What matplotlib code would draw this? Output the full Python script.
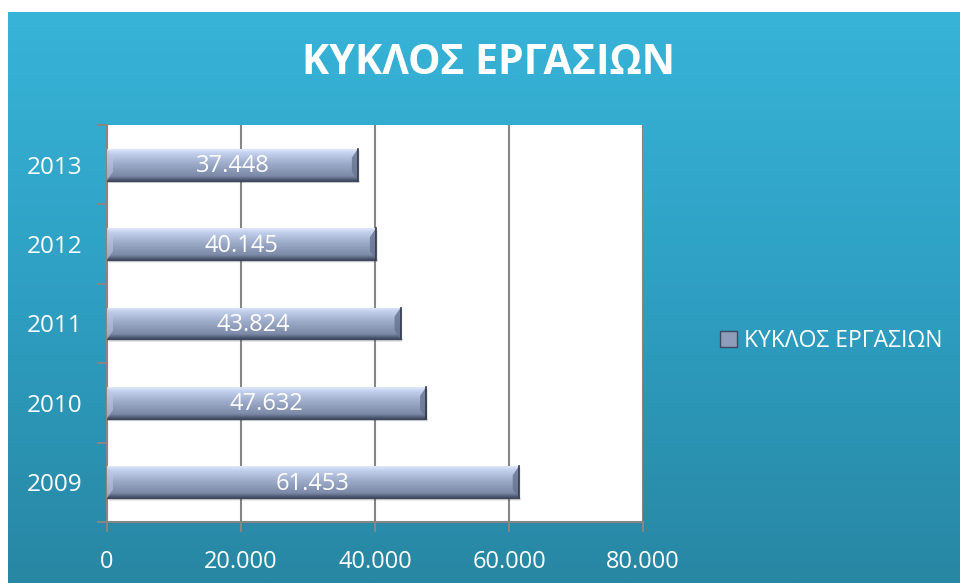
import numpy as np
import matplotlib.pyplot as plt
from matplotlib.colors import LinearSegmentedColormap
from matplotlib.patches import Polygon, Patch

# data
years = ["2009", "2010", "2011", "2012", "2013"]
values = [61453, 47632, 43824, 40145, 37448]
value_labels = ["61.453", "47.632", "43.824", "40.145", "37.448"]
x_ticks = [0, 20000, 40000, 60000, 80000]
x_tick_labels = ["0", "20.000", "40.000", "60.000", "80.000"]
title = "ΚΥΚΛΟΣ ΕΡΓΑΣΙΩΝ"

plt.rcParams['font.family'] = ['Open Sans', 'DejaVu Sans']

fig = plt.figure(figsize=(9.6, 5.83), dpi=100)
fig.patch.set_facecolor("white")

# blue gradient background
bg = fig.add_axes([8/960, 0, 952/960, 571/583], zorder=-5)
bg_cmap = LinearSegmentedColormap.from_list("bg", ["#37b4d8", "#2e9fc2", "#2887a3"])
bg.imshow(np.linspace(0, 1, 256).reshape(-1, 1), cmap=bg_cmap, aspect="auto",
          extent=(0, 1, 0, 1), origin="upper")
bg.set_axis_off()

fig.text(488/960, 1 - 64/583, title, color="white", fontsize=29.5, fontweight="bold",
         ha="center", va="center")

ax = fig.add_axes([107/960, 61/583, 536/960, 397/583])
ax.set_facecolor("white")

y = np.arange(len(years))
h = 0.4
bars = ax.barh(y, values, height=h, color="#8f9dbb", edgecolor="none", zorder=3)

bar_cmap = LinearSegmentedColormap.from_list(
    "bar", [(0, "#dfe8fb"), (0.12, "#c4d1ee"), (0.45, "#9dacca"),
            (0.85, "#7b89a6"), (1, "#3f4960")])
grad = np.linspace(0, 1, 100).reshape(-1, 1)
bw = 900
for rect, v, lab in zip(bars, values, value_labels):
    y0 = rect.get_y()
    y1 = y0 + rect.get_height()
    # shadow
    ax.add_patch(Polygon([(bw * 0.3, y0 - 0.03), (v + 250, y0 - 0.03), (v + 250, y1 - 0.03),
                          (v, y1), (bw * 0.3, y0)], closed=True,
                         facecolor="#000000", alpha=0.12, edgecolor="none", zorder=2))
    im = ax.imshow(grad, cmap=bar_cmap, aspect="auto", extent=(0, v, y0, y1),
                   origin="upper", zorder=3.5)
    im.set_clip_path(rect)
    # bevel facets at the ends
    bh = 0.28 * (y1 - y0)
    ax.add_patch(Polygon([(v - bw, y1 - bh), (v, y1), (v, y0), (v - bw, y0 + bh)],
                         closed=True, facecolor="#67748f", alpha=0.8, edgecolor="none", zorder=4))
    ax.add_patch(Polygon([(0, y1), (bw, y1 - bh), (bw, y0 + bh), (0, y0)],
                         closed=True, facecolor="#b9c6e2", alpha=0.6, edgecolor="none", zorder=4))
    ax.plot([v, v], [y0, y1], color="#2f3748", lw=1.2, zorder=4.5)
    ax.plot([0, v], [y0, y0], color="#3f4960", lw=1, zorder=4.5)
    ax.text(v / 2, y0 + (y1 - y0) / 2 - 0.02, lab, color="white",
            fontsize=17, ha="center", va="center", zorder=5)

ax.set_xlim(0, 80000)
ax.set_ylim(-0.5, len(years) - 0.5)
ax.set_xticks(x_ticks)
ax.set_xticklabels(x_tick_labels)
ax.set_yticks(np.arange(len(years) + 1) - 0.5)
ax.set_yticklabels([])
ax.set_yticks(y, minor=True)
ax.set_yticklabels(years, minor=True)
ax.tick_params(axis="y", which="major", length=7, width=1.5, color="#868686", direction="out")
ax.tick_params(axis="y", which="minor", length=0, pad=18, labelsize=17.5, labelcolor="white")
ax.tick_params(axis="x", length=7, width=1.5, color="#868686", pad=13,
               labelsize=17, labelcolor="white")
ax.xaxis.grid(True, color="#868686", lw=1.5, zorder=1)
ax.set_axisbelow(True)
for side in ["top", "right"]:
    ax.spines[side].set_visible(False)
for side in ["left", "bottom"]:
    ax.spines[side].set_color("#868686")
    ax.spines[side].set_linewidth(1.5)

handle = Patch(facecolor="#8f9dbb", edgecolor="#3f4960")
fig.legend([handle], [title], loc="center left", bbox_to_anchor=(699/960, 1 - 341/583),
           frameon=False, fontsize=16.5, labelcolor="white", handlelength=0.75,
           handleheight=0.75, handletextpad=0.3)

fig.savefig("out.png", dpi=100)
